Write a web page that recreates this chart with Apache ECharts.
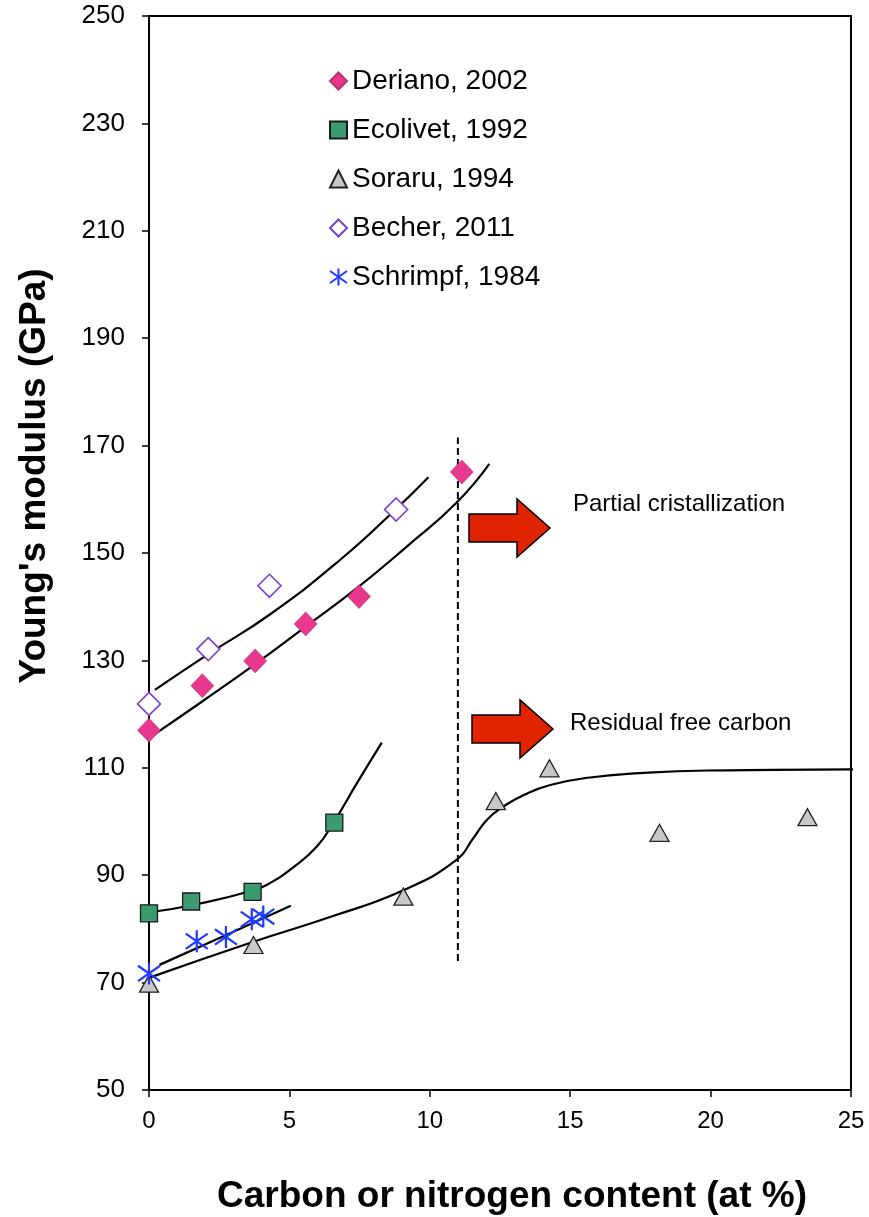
<!DOCTYPE html>
<html>
<head>
<meta charset="utf-8">
<script src="https://cdn.jsdelivr.net/npm/echarts@6/dist/echarts.min.js"></script>
<style>
html,body{margin:0;padding:0;background:#fff;}
#c{width:869px;height:1217px;}
</style>
</head>
<body>
<div id="c"></div>
<script>
// ---- data ----
const xTicks = [0, 5, 10, 15, 20, 25];
const yTicks = [50, 70, 90, 110, 130, 150, 170, 190, 210, 230, 250];

const deriano   = [[0, 117], [1.9, 125.3], [3.78, 129.9], [5.58, 136.8], [7.48, 141.9], [11.14, 165.1]];
const ecolivet  = [[0, 82.9], [1.5, 85.1], [3.69, 86.9], [6.6, 99.8]];
const soraru    = [[0, 69.8], [3.72, 77.0], [9.06, 86.0], [12.35, 103.8], [14.26, 109.9], [18.18, 97.9], [23.45, 100.8]];
const becher    = [[0, 121.9], [2.11, 132.1], [4.29, 143.9], [8.8, 158.1]];
const schrimpf  = [[0, 71.7], [1.7, 77.7], [2.74, 78.5], [3.66, 81.8], [4.07, 82.3]];

// fitted trend curves
const fitBecher   = [[0.21, 124.5], [2.15, 131.3], [4.29, 138.5], [6.8, 148.7], [8.82, 158.3], [9.95, 164.1]];
const fitDeriano  = [[0.1, 115.9], [1.88, 122.3], [3.78, 129.3], [5.58, 136.3], [7.46, 143.7], [9.18, 151.2], [10.94, 159.3], [12.12, 166.6]];
const fitEcolivet = [[0.04, 83.1], [1.52, 84.4], [3.72, 87.2], [4.4, 88.8], [5.02, 91.0], [5.97, 95.3], [6.63, 100.3], [7.4, 107.1], [8.29, 114.7]];
const fitSchrimpf = [[0.37, 73.3], [2.77, 78.9], [5.05, 84.3]];
const fitSoraru   = [[-0.38, 70.2], [3.72, 77.6], [6.5, 82.3], [9.06, 87.2], [10.94, 92.8], [11.55, 96.9], [12.03, 100.3], [12.62, 102.8], [13.33, 104.9], [14.29, 106.8], [15.71, 108.2], [17.49, 109.0], [19.87, 109.5], [22.24, 109.6], [25.15, 109.7]];
const dividerLine = [[11, 74], [11, 171.5]];

const seriesNames = ['Deriano, 2002', 'Ecolivet, 1992', 'Soraru, 1994', 'Becher, 2011', 'Schrimpf, 1984'];
const annotations = ['Partial cristallization', 'Residual free carbon'];
const xTitle = 'Carbon or nitrogen content (at %)';
const yTitle = "Young's modulus (GPa)";

// ---- chart ----
const FONT = '"Liberation Sans", Arial, Helvetica, sans-serif';
const chart = echarts.init(document.getElementById('c'), null, {renderer: 'canvas'});

function fitLine(data, clip) {
  return {
    type: 'line', data: data, showSymbol: false, smooth: 0.5, clip: clip !== false,
    lineStyle: {color: '#000', width: 2.2}, z: 2, silent: true
  };
}
const asterisk = 'path://M0,-10 L0,10 M-10,-7 L10,7 M-10,7 L10,-7';

const option = {
  animation: false,
  backgroundColor: '#fff',
  textStyle: {fontFamily: FONT},
  grid: {left: 149, right: 18, top: 16, bottom: 127, show: true, borderColor: '#000', borderWidth: 2, backgroundColor: 'transparent'},
  xAxis: {
    type: 'value', min: xTicks[0], max: xTicks[xTicks.length - 1], interval: 5,
    axisLine: {show: true, lineStyle: {color: '#000', width: 2}},
    axisTick: {show: true, inside: false, length: 7, lineStyle: {color: '#000', width: 1.5}},
    axisLabel: {fontSize: 24, color: '#000', margin: 19, fontFamily: FONT},
    splitLine: {show: false}
  },
  yAxis: {
    type: 'value', min: yTicks[0], max: yTicks[yTicks.length - 1], interval: 20,
    axisLine: {show: true, lineStyle: {color: '#000', width: 2}},
    axisTick: {show: true, inside: false, length: 7, lineStyle: {color: '#000', width: 1.5}},
    axisLabel: {fontSize: 26, color: '#000', margin: 24, fontFamily: FONT},
    splitLine: {show: false}
  },
  legend: {
    data: seriesNames, orient: 'vertical', left: 324, top: 62,
    itemWidth: 17, itemHeight: 17, itemGap: 21,
    textStyle: {fontSize: 28, color: '#000', lineHeight: 28, fontFamily: FONT},
    selectedMode: false
  },
  series: [
    fitLine(fitBecher), fitLine(fitDeriano), fitLine(fitEcolivet), fitLine(fitSchrimpf), fitLine(fitSoraru, false),
    {type: 'line', data: dividerLine, showSymbol: false, lineStyle: {color: '#000', width: 2, type: [7, 4]}, z: 2, silent: true},
    {name: seriesNames[0], type: 'scatter', data: deriano, symbol: 'diamond', symbolSize: [23, 24], z: 3,
     itemStyle: {color: '#E8388E', borderColor: '#B8336F', borderWidth: 0.6, opacity: 1}},
    {name: seriesNames[1], type: 'scatter', data: ecolivet, symbol: 'rect', symbolSize: 17, z: 3,
     itemStyle: {color: '#3A9B6F', borderColor: '#1a1a1a', borderWidth: 1.3, opacity: 1}},
    {name: seriesNames[2], type: 'scatter', data: soraru, symbol: 'triangle', symbolSize: [19, 17], z: 3,
     itemStyle: {color: '#C8C8C8', borderColor: '#222', borderWidth: 1.3, opacity: 1}},
    {name: seriesNames[3], type: 'scatter', data: becher, symbol: 'diamond', symbolSize: 23, z: 3,
     itemStyle: {color: '#fff', borderColor: '#7A3FD0', borderWidth: 1.6, opacity: 1}},
    {name: seriesNames[4], type: 'scatter', data: schrimpf, symbol: asterisk, symbolSize: 22, z: 3,
     itemStyle: {color: 'transparent', borderColor: '#1F3BFF', borderWidth: 2.2, opacity: 1}}
  ]
};
chart.setOption(option);

// annotations: arrows and texts (decorations)
function arrow(x0, yc) {
  return {
    type: 'polygon', z: 10,
    shape: {points: [[x0, yc - 14], [x0 + 48, yc - 14], [x0 + 48, yc - 29], [x0 + 81, yc], [x0 + 48, yc + 29], [x0 + 48, yc + 14], [x0, yc + 14]]},
    style: {fill: '#E02400', stroke: '#000', lineWidth: 1.5}
  };
}
chart.setOption({
  graphic: [
    arrow(469, 528),
    arrow(472, 729),
    {type: 'text', left: 573, top: 506 - 14, z: 10, style: {text: annotations[0], font: '24px ' + FONT, fill: '#000'}},
    {type: 'text', left: 570, top: 725 - 14, z: 10, style: {text: annotations[1], font: '24px ' + FONT, fill: '#000'}},
    {type: 'text', x: 512, y: 1197, z: 10, style: {text: xTitle, font: 'bold 37px ' + FONT, fill: '#000', align: 'center', verticalAlign: 'middle'}},
    {type: 'text', x: 35, y: 476, rotation: Math.PI / 2, z: 10, style: {text: yTitle, font: 'bold 37px ' + FONT, fill: '#000', align: 'center', verticalAlign: 'middle'}}
  ]
});
</script>
</body>
</html>
